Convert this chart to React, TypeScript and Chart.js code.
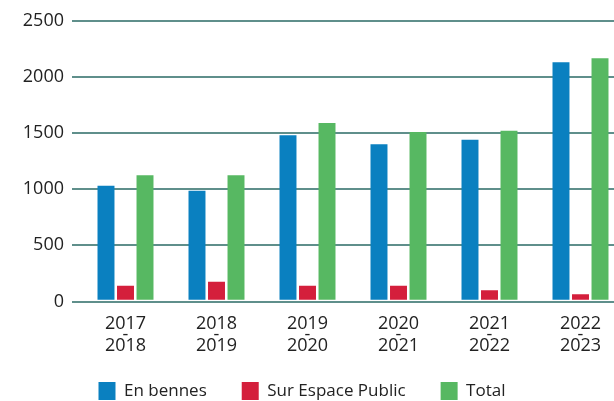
import React, { useEffect, useRef } from "react";
import { Chart, registerables } from "chart.js";

Chart.register(...registerables);

const categories = [
  ["2017", "-", "2018"],
  ["2018", "-", "2019"],
  ["2019", "-", "2020"],
  ["2020", "-", "2021"],
  ["2021", "-", "2022"],
  ["2022", "-", "2023"],
];
const enBennes = [1030, 985, 1480, 1400, 1440, 2130];
const surEspacePublic = [140, 175, 140, 140, 100, 65];
const total = [1125, 1125, 1590, 1510, 1520, 2165];
const yTicks = [0, 500, 1000, 1500, 2000, 2500];

const FONT = '"Open Sans", sans-serif';
const TEXT = "#222222";
const GRID = "#5f8f8b";

export default function App() {
  const ref = useRef<HTMLCanvasElement>(null);

  useEffect(() => {
    if (!ref.current) return;
    const common = {
      borderWidth: 0,
      base: 15,
      categoryPercentage: 0.643,
      barPercentage: 0.87,
    };
    const chart = new Chart(ref.current, {
      type: "bar",
      data: {
        labels: categories,
        datasets: [
          { label: "En bennes", data: enBennes, backgroundColor: "#0a80c0", ...common },
          { label: "Sur Espace Public", data: surEspacePublic, backgroundColor: "#d41f3c", ...common },
          { label: "Total", data: total, backgroundColor: "#57b862", ...common },
        ],
      },
      options: {
        responsive: false,
        animation: false,
        layout: { padding: { top: 20.7, left: 0, right: 0, bottom: 0 } },
        plugins: {
          legend: {
            position: "bottom",
            labels: {
              boxWidth: 17,
              boxHeight: 18,
              padding: 35,
              color: TEXT,
              font: { family: FONT, size: 17 },
            },
          },
          tooltip: { enabled: false },
        },
        scales: {
          x: {
            grid: { display: false, drawTicks: false },
            border: { display: false },
            ticks: {
              mirror: true,
              padding: -28,
              color: TEXT,
              maxRotation: 0,
              font: { family: FONT, size: 18, lineHeight: "11px" },
            },
            afterFit: (s: any) => {
              s.height = 45.5;
            },
          },
          y: {
            min: 0,
            max: 2500,
            afterBuildTicks: (s: any) => {
              s.ticks = yTicks.map((v) => ({ value: v }));
            },
            grid: { color: GRID, lineWidth: 2, tickLength: 8 },
            border: { display: false },
            ticks: {
              padding: 8,
              color: TEXT,
              font: { family: FONT, size: 18 },
              callback: (v: any) => String(v),
            },
            afterFit: (s: any) => {
              s.width = 102;
            },
          },
        },
      },
    } as any);
    return () => chart.destroy();
  }, []);

  return (
    <div
      style={{
        position: "fixed",
        left: 0,
        top: 0,
        width: 614,
        height: 401,
        overflow: "hidden",
        background: "#ffffff",
      }}
    >
      <canvas
        ref={ref}
        width={648}
        height={410}
        style={{ position: "absolute", left: -22, top: 0 }}
      />
    </div>
  );
}
